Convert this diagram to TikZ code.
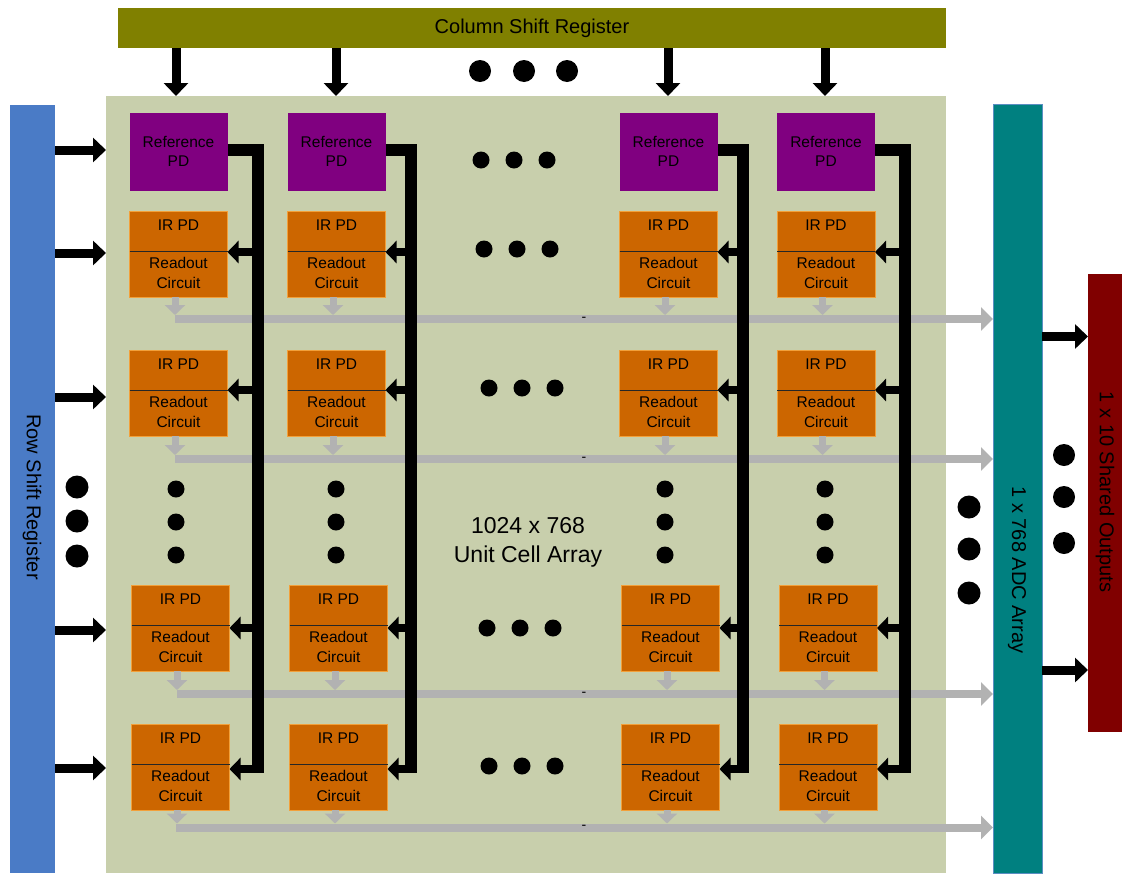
\documentclass[tikz,border=0pt]{standalone}
\usepackage{fontspec}
\setmainfont{Liberation Sans}
\usetikzlibrary{arrows.meta}
\definecolor{olivebar}{HTML}{808000}
\definecolor{rowblue}{HTML}{4A7BC6}
\definecolor{arraybg}{HTML}{C8CFAC}
\definecolor{adcteal}{HTML}{008080}
\definecolor{adcedge}{HTML}{5B8EC2}
\definecolor{outred}{HTML}{800000}
\definecolor{refpurple}{HTML}{800080}
\definecolor{cellorange}{HTML}{CC6600}
\definecolor{cellborder}{HTML}{F2A03A}
\definecolor{busgray}{HTML}{B2B2B2}
\begin{document}
\begin{tikzpicture}[x=1pt,y=-1pt,
  box/.style={inner sep=0pt, outer sep=0pt},
  regtext/.style={font=\fontsize{20}{24}\selectfont, inner sep=0pt},
  celltext/.style={font=\fontsize{15.5}{18}\selectfont, inner sep=0pt, anchor=base},
  refbox/.style={box, fill=refpurple, minimum width=98pt, minimum height=78pt},
  cellbox/.style={box, fill=cellorange, draw=cellborder, line width=1pt, minimum width=98pt, minimum height=86pt},
  divider/.style={draw=black!85, line width=0.9pt},
  bus/.style={draw=black, line width=12pt, line join=miter},
  branch/.style={draw=black, line width=8pt, -{Triangle[width=22pt,length=11pt]}},
  bigarrow/.style={draw=black, line width=9pt, -{Triangle[width=24pt,length=13pt]}},
  grayarrow/.style={draw=busgray, line width=8pt, -{Triangle[width=23pt,length=12pt]}},
  downarrow/.style={draw=busgray, line width=7pt, -{Triangle[width=20pt,length=10pt]}, shorten >=4pt},
  dashlabel/.style={font=\fontsize{14}{14}\selectfont, inner sep=0pt},
  bigdot/.style={fill=black},
]
\useasboundingbox (0,0) rectangle (1122,873);
\fill[white] (0,0) rectangle (1122,873);

% main blocks
\node[box, fill=arraybg, minimum width=840pt, minimum height=777pt, anchor=north west] (array) at (106,96) {};
\node[box, fill=olivebar, minimum width=828pt, minimum height=40pt, anchor=north west] (colsr) at (118,8) {};
\node[box, fill=rowblue, minimum width=45pt, minimum height=768pt, anchor=north west] (rowsr) at (10,105) {};
\node[box, fill=adcteal, draw=adcedge, line width=0.8pt, minimum width=49pt, minimum height=769pt, anchor=north west] (adc) at (993,104) {};
\node[box, fill=outred, minimum width=34pt, minimum height=458pt, anchor=north west] (outs) at (1088,274) {};

\node[regtext] (colsrtext) at (colsr.center) {Column Shift Register};
\node[regtext, rotate=-90] (rowsrtext) at (32,497) {Row Shift Register};
\node[regtext, rotate=-90] (adctext) at (1017,570) {1 x 768 ADC Array};
\node[regtext, rotate=-90] (outstext) at (1105,492) {1 x 10 Shared Outputs};
\node[font=\fontsize{23}{29}\selectfont, align=center, inner sep=0pt] (centertext) at (528,542) {1024 x 768\\Unit Cell Array};

% cells
\foreach \c/\x in {1/178.5,2/336.5,3/668.5,4/826}{
  \node[refbox] (ref\c) at (\x,152) {};
  \node[celltext] (rta\c) at ([yshift=-34pt]ref\c.north) {Reference};
  \node[celltext] (rtb\c) at ([yshift=-53pt]ref\c.north) {PD};
  \foreach \r/\y/\dx in {1/254/0,2/393/0,3/628/2,4/767/2}{
    \node[cellbox] (c\r\c) at ({\x+\dx},\y) {};
    \draw[divider] ([yshift=3pt]c\r\c.west) -- ([yshift=3pt]c\r\c.east);
    \node[celltext] (ta\r\c) at ([yshift=-19pt]c\r\c.north) {IR PD};
    \node[celltext] (tb\r\c) at ([yshift=-57pt]c\r\c.north) {Readout};
    \node[celltext] (tc\r\c) at ([yshift=-77pt]c\r\c.north) {Circuit};
  }
}

% gray output buses
\foreach \r/\by/\sx in {1/319/175,2/459/175,3/694/177,4/827.5/176}{
  \coordinate (gs\r) at (\sx,\by);
  \draw[grayarrow] (gs\r) -- (gs\r -| adc.west);
  \node[dashlabel] (dash\r) at (584,\by) {-};
}
\foreach \r in {1,2,3,4}{
  \foreach \c in {1,2,3,4}{
    \path ([xshift=-3.5pt]c\r\c.south) coordinate (gt\r\c);
    \draw[downarrow] (gt\r\c) -- (gt\r\c |- gs\r);
  }
}

% black reference buses
\foreach \c/\bx in {1/257.5,2/411,3/743,4/905}{
  \coordinate (bt\c) at (\bx,150);
  \coordinate (bb\c) at (\bx,773);
  \draw[bus] ([yshift=2pt]ref\c.east) -- (bt\c) -- (bb\c);
  \foreach \r/\ay in {1/252,2/390,3/628,4/769}{
    \coordinate (j\r\c) at (\bx,\ay);
    \draw[branch] (j\r\c) -- (j\r\c -| c\r\c.east);
  }
}

% row shift register inputs
\foreach \i/\ay in {1/150,2/253,3/397,4/630,5/768}{
  \coordinate (in\i) at (55,\ay);
  \draw[bigarrow] (in\i) -- (in\i -| array.west);
}
% column shift register inputs
\foreach \i/\ax in {1/176,2/336,3/668,4/825}{
  \coordinate (cs\i) at (\ax,48);
  \draw[bigarrow] (cs\i) -- (cs\i |- array.north);
}
% ADC to outputs
\foreach \i/\ay in {1/336.5,2/670}{
  \coordinate (ao\i) at (1042,\ay);
  \draw[bigarrow] (ao\i) -- (ao\i -| outs.west);
}

% ellipsis dots
\foreach \px in {480,524,567}{\fill[bigdot] (\px,71) circle[radius=11pt];}
\foreach \py/\px in {160/481,160/514,160/547, 249/484,249/517,249/550, 388/489,388/522,388/555, 628/487,628/520,628/553, 766/489,766/522,766/555}{
  \fill[bigdot] (\px,\py) circle[radius=8.5pt];
}
\foreach \px in {176,336,665,825}{
  \foreach \py in {489,522,555}{\fill[bigdot] (\px,\py) circle[radius=8.5pt];}
}
\foreach \py in {487,521,556}{\fill[bigdot] (77,\py) circle[radius=11.5pt];}
\foreach \py in {507,549,593}{\fill[bigdot] (969,\py) circle[radius=11.5pt];}
\foreach \py in {455,497,543}{\fill[bigdot] (1064,\py) circle[radius=11pt];}
\end{tikzpicture}
\end{document}
